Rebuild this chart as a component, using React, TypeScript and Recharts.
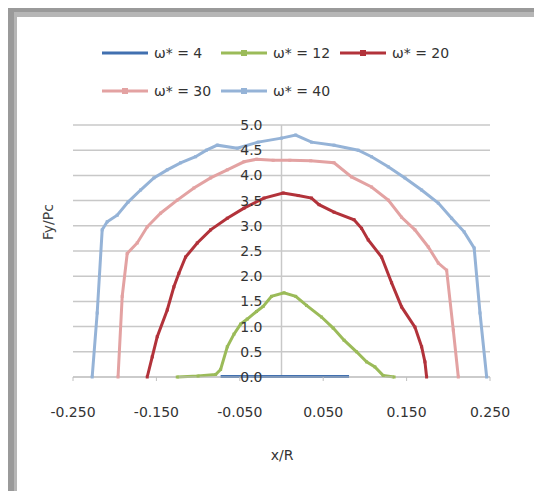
import React from "react";
import { CartesianGrid, Line, LineChart, ReferenceLine, XAxis, YAxis } from "recharts";

const X_TICKS = [-0.25, -0.15, -0.05, 0.05, 0.15, 0.25];
const Y_TICKS = [0, 0.5, 1, 1.5, 2, 2.5, 3, 3.5, 4, 4.5, 5];

const X_W4 = [-0.073, -0.05, -0.025, 0, 0.025, 0.05, 0.081];
const Y_W4 = [0.01, 0.01, 0.01, 0.01, 0.01, 0.01, 0.01];

const X_W12 = [-0.125, -0.1, -0.079, -0.073, -0.065, -0.057, -0.049, -0.041, -0.03, -0.022, -0.012, 0.003, 0.017, 0.03, 0.048, 0.062, 0.075, 0.09, 0.102, 0.112, 0.122, 0.135];
const Y_W12 = [0, 0.02, 0.05, 0.15, 0.6, 0.85, 1.05, 1.15, 1.3, 1.4, 1.6, 1.67, 1.6, 1.42, 1.19, 0.97, 0.73, 0.5, 0.3, 0.2, 0.03, 0];

const X_W20 = [-0.161, -0.155, -0.149, -0.137, -0.129, -0.123, -0.115, -0.101, -0.085, -0.065, -0.045, -0.021, 0.002, 0.02, 0.036, 0.045, 0.063, 0.087, 0.096, 0.104, 0.12, 0.132, 0.144, 0.16, 0.168, 0.172, 0.174];
const Y_W20 = [0, 0.4, 0.8, 1.33, 1.79, 2.06, 2.38, 2.66, 2.92, 3.15, 3.35, 3.55, 3.65, 3.6, 3.55, 3.42, 3.27, 3.12, 2.95, 2.72, 2.38, 1.87, 1.39, 0.99, 0.6, 0.3, 0];

const X_W30 = [-0.196, -0.191, -0.185, -0.173, -0.161, -0.145, -0.125, -0.105, -0.085, -0.065, -0.045, -0.03, -0.01, 0.01, 0.035, 0.063, 0.084, 0.108, 0.128, 0.144, 0.16, 0.176, 0.188, 0.198, 0.206, 0.212];
const Y_W30 = [0, 1.6, 2.45, 2.66, 2.98, 3.25, 3.51, 3.75, 3.95, 4.11, 4.27, 4.32, 4.3, 4.3, 4.29, 4.25, 3.97, 3.77, 3.51, 3.17, 2.92, 2.58, 2.26, 2.12, 0.93, 0];

const X_W40 = [-0.227, -0.221, -0.215, -0.209, -0.197, -0.184, -0.169, -0.153, -0.137, -0.121, -0.103, -0.09, -0.077, -0.053, -0.028, 0, 0.017, 0.036, 0.063, 0.092, 0.108, 0.128, 0.148, 0.168, 0.188, 0.204, 0.219, 0.231, 0.238, 0.246];
const Y_W40 = [0, 1.27, 2.92, 3.08, 3.21, 3.47, 3.71, 3.95, 4.11, 4.25, 4.37, 4.5, 4.6, 4.54, 4.66, 4.74, 4.8, 4.66, 4.6, 4.5, 4.37, 4.17, 3.95, 3.71, 3.45, 3.15, 2.88, 2.56, 1.27, 0];

const zip = (xs: number[], ys: number[]) => xs.map((x, i) => ({ x, y: ys[i] }));

const SERIES = [
  { name: "ω* = 4", color: "#4170b0", data: zip(X_W4, Y_W4), marker: false },
  { name: "ω* = 12", color: "#9bbb59", data: zip(X_W12, Y_W12), marker: true },
  { name: "ω* = 20", color: "#b2323a", data: zip(X_W20, Y_W20), marker: true },
  { name: "ω* = 30", color: "#e3a2a2", data: zip(X_W30, Y_W30), marker: true },
  { name: "ω* = 40", color: "#95b3d7", data: zip(X_W40, Y_W40), marker: true },
];

const W = 534;
const H = 491;
const LEFT = 73;
const RIGHT = 44;
const TOP = 125;
const Y_AXIS_W = 40;
const PLOT_W = W - LEFT - RIGHT;
const FONT = "'DejaVu Sans', sans-serif";
// y labels sit next to the x = 0 axis, not at the plot edge
const ZERO_SHIFT = (PLOT_W * 0.25) / 0.5;

const YTick = (p: any) => (
  <text x={LEFT + ZERO_SHIFT - 19} y={p.y} dy={5} textAnchor="end" fontSize={14} fill="#333" fontFamily={FONT}>
    {Number(p.payload.value).toFixed(1)}
  </text>
);

const Dot = (color: string) => (p: any) =>
  p.cx == null ? null : <rect key={p.index} x={p.cx - 1.5} y={p.cy - 1.5} width={3} height={3} fill={color} />;

export default function App() {
  return (
    <div style={{ position: "absolute", left: 0, top: 0, width: W, height: H, background: "#fff", fontFamily: FONT }}>
      <div style={{ position: "absolute", left: 8, top: 8, right: 0, bottom: 0, borderLeft: "6px solid #9a9a9a", borderTop: "4px solid #9a9a9a" }} />
      <div style={{ position: "absolute", left: 14, top: 12, right: 0, bottom: 0, borderLeft: "3px solid #b6b6b6", borderTop: "5px solid #b6b6b6" }} />

      <div style={{ position: "absolute", left: 102, top: 34, width: 360, display: "flex", flexWrap: "wrap" }}>
        {SERIES.map((s) => (
          <div key={s.name} style={{ width: 119, height: 38, display: "flex", alignItems: "center" }}>
            <svg width={48} height={10}>
              <line x1={0} x2={46} y1={5} y2={5} stroke={s.color} strokeWidth={3} />
              {s.marker && <rect x={20} y={2} width={6} height={6} fill={s.color} />}
            </svg>
            <span style={{ fontSize: 14, color: "#333", marginLeft: 4 }}>{s.name}</span>
          </div>
        ))}
      </div>

      <div style={{ position: "absolute", left: 48, top: 222, transform: "translate(-50%, -50%) rotate(-90deg)", fontSize: 14, color: "#444", whiteSpace: "nowrap" }}>
        Fy/Pc
      </div>
      <div style={{ position: "absolute", left: 282, top: 455, transform: "translate(-50%, -50%)", fontSize: 14, color: "#333" }}>
        x/R
      </div>

      <LineChart width={W} height={H} margin={{ top: TOP, right: RIGHT, left: LEFT - Y_AXIS_W, bottom: 74 }} style={{ position: "absolute", left: 0, top: 0 }}>
        <CartesianGrid vertical={false} stroke="#c8c8c8" strokeWidth={1.5} />
        <XAxis
          type="number"
          dataKey="x"
          domain={[-0.25, 0.25]}
          ticks={X_TICKS}
          tickFormatter={(v: number) => v.toFixed(3)}
          height={40}
          tickSize={4}
          tickMargin={26}
          stroke="#c0c0c0"
          tick={{ fontSize: 14, fill: "#333", fontFamily: FONT }}
          allowDataOverflow
        />
        <YAxis type="number" domain={[0, 5]} ticks={Y_TICKS} width={Y_AXIS_W} axisLine={false} tickLine={false} tick={YTick} interval={0} />
        <ReferenceLine x={0} stroke="#c8c8c8" strokeWidth={1.5} />
        {SERIES.map((s) => (
          <Line
            key={s.name}
            data={s.data}
            dataKey="y"
            type="linear"
            stroke={s.color}
            strokeWidth={3}
            dot={s.marker ? Dot(s.color) : false}
            isAnimationActive={false}
          />
        ))}
      </LineChart>
    </div>
  );
}
